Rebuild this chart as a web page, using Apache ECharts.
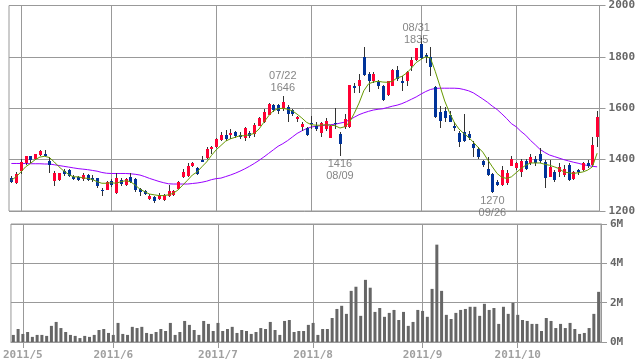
<!DOCTYPE html>
<html><head><meta charset="utf-8">
<script src="https://cdn.jsdelivr.net/npm/echarts@6/dist/echarts.min.js"></script>
<style>html,body{margin:0;padding:0;background:#fff}#c{width:638px;height:362px}</style>
</head><body><div id="c"></div>
<script>
const dates = ['2011/04/27','2011/04/28',
'2011/05/02','2011/05/06','2011/05/09','2011/05/10','2011/05/11','2011/05/12','2011/05/13','2011/05/16','2011/05/17','2011/05/18','2011/05/19','2011/05/20','2011/05/23','2011/05/24','2011/05/25','2011/05/26','2011/05/27','2011/05/30','2011/05/31',
'2011/06/01','2011/06/02','2011/06/03','2011/06/06','2011/06/07','2011/06/08','2011/06/09','2011/06/10','2011/06/13','2011/06/14','2011/06/15','2011/06/16','2011/06/17','2011/06/20','2011/06/21','2011/06/22','2011/06/23','2011/06/24','2011/06/27','2011/06/28','2011/06/29','2011/06/30',
'2011/07/01','2011/07/04','2011/07/05','2011/07/06','2011/07/07','2011/07/08','2011/07/11','2011/07/12','2011/07/13','2011/07/14','2011/07/15','2011/07/19','2011/07/20','2011/07/21','2011/07/22','2011/07/25','2011/07/26','2011/07/27','2011/07/28','2011/07/29',
'2011/08/01','2011/08/02','2011/08/03','2011/08/04','2011/08/05','2011/08/08','2011/08/09','2011/08/10','2011/08/11','2011/08/12','2011/08/15','2011/08/16','2011/08/17','2011/08/18','2011/08/19','2011/08/22','2011/08/23','2011/08/24','2011/08/25','2011/08/26','2011/08/29','2011/08/30','2011/08/31',
'2011/09/01','2011/09/02','2011/09/05','2011/09/06','2011/09/07','2011/09/08','2011/09/09','2011/09/12','2011/09/13','2011/09/14','2011/09/15','2011/09/16','2011/09/20','2011/09/21','2011/09/22','2011/09/26','2011/09/27','2011/09/28','2011/09/29','2011/09/30',
'2011/10/03','2011/10/04','2011/10/05','2011/10/06','2011/10/07','2011/10/11','2011/10/12','2011/10/13','2011/10/14','2011/10/17','2011/10/18','2011/10/19','2011/10/20','2011/10/21','2011/10/24','2011/10/25','2011/10/26','2011/10/27'];

const openP = [1328,1308,1356,1387,1413,1400,1416,1420,1393,1316,1320,1356,1359,1333,1333,1324,1340,1327,1327,1283,1282,
1316,1269,1320,1301,1333,1323,1285,1278,1247,1254,1247,1243,1259,1263,1286,1333,1337,1375,1369,1400,1408,1440,
1449,1477,1497,1493,1506,1497,1487,1502,1502,1532,1549,1577,1611,1611,1598,1605,1592,1555,1528,1523,
1541,1532,1502,1519,1487,1541,1500,1525,1525,1686,1686,1798,1733,1705,1701,1686,1650,1688,1750,1705,1705,1763,1788,
1850,1808,1801,1682,1586,1590,1574,1532,1502,1509,1500,1462,1442,1395,1362,1343,1314,1301,1308,1378,
1365,1352,1395,1385,1404,1420,1391,1333,1352,1352,1340,1378,1323,1359,1359,1387,1378,1490];
const closeP = [1311,1343,1391,1413,1397,1420,1432,1413,1378,1348,1346,1343,1337,1327,1320,1340,1320,1320,1297,1280,1312,
1300,1327,1305,1324,1314,1282,1275,1267,1260,1240,1263,1263,1278,1278,1314,1352,1375,1385,1346,1393,1442,1448,
1481,1497,1481,1502,1490,1491,1525,1490,1536,1562,1586,1618,1592,1586,1624,1577,1577,1564,1538,1497,
1536,1519,1541,1551,1532,1536,1462,1558,1690,1677,1711,1728,1705,1733,1686,1631,1705,1750,1715,1698,1741,1788,1833,
1795,1801,1763,1564,1551,1561,1548,1525,1468,1474,1483,1448,1410,1378,1340,1272,1301,1359,1348,1404,
1385,1395,1365,1410,1387,1391,1327,1372,1320,1372,1362,1320,1352,1352,1385,1374,1455,1566];
const lowP = [1308,1305,1343,1378,1386,1397,1413,1409,1347,1299,1318,1337,1333,1320,1318,1318,1318,1314,1290,1259,1281,
1295,1265,1297,1297,1308,1275,1259,1262,1243,1233,1243,1240,1256,1259,1282,1330,1333,1372,1340,1391,1404,1423,
1445,1474,1474,1481,1484,1481,1474,1484,1487,1530,1541,1574,1585,1579,1589,1548,1570,1548,1510,1493,
1519,1510,1487,1510,1485,1519,1416,1519,1523,1660,1660,1724,1664,1698,1673,1628,1647,1686,1705,1667,1686,1744,1785,
1792,1775,1725,1561,1525,1545,1545,1510,1451,1468,1477,1410,1404,1372,1336,1270,1297,1297,1301,1374,
1359,1333,1359,1378,1374,1387,1288,1331,1314,1333,1333,1318,1320,1340,1356,1369,1372,1451];
const highP = [1336,1352,1404,1416,1416,1422,1436,1436,1409,1356,1348,1365,1365,1340,1336,1347,1345,1340,1330,1288,1318,
1323,1346,1327,1327,1346,1327,1288,1282,1265,1259,1272,1266,1301,1282,1318,1363,1387,1391,1371,1413,1451,1452,
1484,1506,1515,1519,1513,1506,1528,1513,1541,1566,1596,1622,1617,1615,1646,1613,1596,1570,1545,1528,
1570,1545,1545,1562,1536,1600,1506,1577,1692,1698,1733,1840,1741,1743,1711,1690,1708,1752,1763,1724,1746,1801,1835,
1874,1814,1840,1686,1609,1605,1590,1545,1513,1577,1513,1474,1448,1400,1410,1346,1320,1374,1361,1416,
1391,1404,1404,1420,1413,1446,1397,1400,1359,1385,1378,1385,1356,1365,1391,1400,1487,1590];
const ma5 = [1320,1333,1352,1372,1385,1400,1410,1413,1408,1391,1372,1356,1343,1333,1333,1329,1327,1323,1314,1308,1308,
1310,1308,1314,1318,1314,1301,1285,1275,1266,1263,1260,1260,1263,1269,1282,1301,1320,1340,1352,1372,1391,1416,
1438,1455,1472,1481,1487,1493,1493,1497,1502,1519,1545,1570,1590,1598,1600,1596,1590,1577,1562,1545,
1536,1534,1534,1536,1534,1532,1523,1528,1545,1580,1620,1668,1695,1702,1705,1702,1701,1705,1718,1724,1737,1756,1778,
1790,1801,1795,1744,1686,1628,1583,1545,1519,1502,1487,1468,1448,1429,1400,1372,1346,1331,1327,1333,
1349,1365,1378,1387,1387,1387,1382,1378,1372,1365,1352,1349,1346,1349,1352,1359,1372,1425];
const ma25 = [1385,1385,1385,1385,1384,1384,1384,1383,1383,1380,1377,1374,1371,1368,1365,1363,1361,1358,1355,1350,1347,
1346,1346,1346,1346,1345,1343,1340,1334,1327,1321,1315,1310,1306,1305,1305,1305,1305,1307,1309,1312,1316,1322,
1326,1328,1334,1340,1347,1355,1364,1374,1385,1397,1410,1424,1438,1452,1462,1474,1488,1502,1512,1521,
1527,1530,1532,1534,1536,1538,1542,1546,1555,1565,1575,1582,1588,1593,1596,1598,1603,1608,1612,1618,1626,1635,1644,
1655,1665,1673,1677,1678,1678,1678,1678,1677,1673,1668,1660,1648,1636,1623,1608,1595,1578,1560,1540,
1528,1510,1495,1475,1458,1440,1428,1418,1412,1406,1400,1395,1390,1386,1381,1377,1374,1372];
const volume = [0.36,0.66,0.41,0.51,0.26,0.36,0.36,0.31,0.82,1.02,0.71,0.51,0.36,0.31,0.20,0.31,0.26,0.36,0.61,0.66,0.46,
0.36,0.97,0.41,0.36,0.77,0.71,0.77,0.46,0.41,0.51,0.66,0.56,0.97,0.36,0.51,1.07,0.87,0.61,0.36,1.07,0.92,0.56,
0.97,0.56,0.66,0.77,0.46,0.61,0.56,0.41,0.51,0.71,0.66,1.02,0.61,0.36,1.07,1.12,0.51,0.56,0.56,0.87,
0.97,0.36,0.66,0.66,1.22,1.68,1.84,1.43,2.60,2.81,1.33,3.16,2.76,1.53,1.73,1.28,1.48,1.63,1.12,1.53,0.82,1.02,1.63,
1.58,1.28,2.70,4.95,2.60,1.38,1.17,1.48,1.63,1.68,1.79,1.79,1.33,1.94,1.63,1.73,0.92,1.79,1.43,1.99,
1.38,1.12,1.07,0.92,0.92,0.56,1.22,1.07,0.71,0.92,0.71,0.97,0.66,0.41,0.46,0.71,1.43,2.55];
const priceTicks = [1200, 2000, 200];
const volTicks = [0, 6, 2];
const annDates = ['2011/07/22','2011/08/09','2011/08/31','2011/09/26'];
const annValues = [1646, 1416, 1835, 1270];
const annKinds = ['high','low','high','low'];

const UP = '#ff0033', DOWN = '#003399';
const GRID = '#999999';
const monthOf = d => +d.split('/')[1];
const isMonthStart = i => i > 0 && monthOf(dates[i]) !== monthOf(dates[i - 1]);
const catInterval = (i) => isMonthStart(i);

const candleData = dates.map((d, i) => [i, openP[i], closeP[i], lowP[i], highP[i]]);
const annData = annDates.map((d, k) => ({
  value: [dates.indexOf(d), annValues[k]],
  label: {
    position: annKinds[k] === 'high' ? 'top' : 'bottom',
    formatter: annKinds[k] === 'high' ? (d.slice(5) + '\n' + annValues[k]) : (annValues[k] + '\n' + d.slice(5))
  }
}));

function renderCandle(params, api) {
  const i = api.value(0);
  const o = api.value(1), c = api.value(2), lo = api.value(3), hi = api.value(4);
  const pO = api.coord([i, o]), pC = api.coord([i, c]);
  const pL = api.coord([i, lo]), pH = api.coord([i, hi]);
  const x = Math.round(pO[0]);
  const top = Math.round(Math.min(pO[1], pC[1]));
  const h = Math.max(Math.round(Math.abs(pO[1] - pC[1])), 1);
  return {
    type: 'group',
    children: [
      { type: 'line', shape: { x1: x + 0.5, y1: Math.round(pH[1]), x2: x + 0.5, y2: Math.round(pL[1]) },
        style: { stroke: '#333333', lineWidth: 1 } },
      { type: 'rect', shape: { x: x - 1, y: top, width: 3, height: h },
        style: { fill: c >= o ? UP : DOWN } }
    ]
  };
}

const axisFont = { fontFamily: 'DejaVu Sans Mono', fontWeight: 'bold', fontSize: 11 };

const chart = echarts.init(document.getElementById('c'), null, { renderer: 'canvas' });
chart.setOption({
  animation: false,
  backgroundColor: '#ffffff',
  grid: [
    { left: 9, right: 37, top: 5, height: 206, show: true, borderColor: GRID, borderWidth: 1 },
    { left: 9, right: 37, top: 224, height: 118, show: true, borderColor: GRID, borderWidth: 1 }
  ],
  xAxis: [
    { type: 'category', gridIndex: 0, data: dates, boundaryGap: true,
      axisLine: { show: false }, axisTick: { show: false }, axisLabel: { show: false },
      splitLine: { show: true, interval: catInterval, alignWithLabel: true, lineStyle: { color: GRID, width: 1 } } },
    { type: 'category', gridIndex: 1, data: dates, boundaryGap: true,
      axisLine: { show: true, lineStyle: { color: GRID } },
      axisTick: { show: true, interval: catInterval, alignWithLabel: true, length: 6, lineStyle: { color: GRID } },
      axisLabel: Object.assign({ show: true, interval: catInterval, color: '#a0a0a0', margin: 8,
        formatter: v => v.slice(0, 4) + '/' + monthOf(v) }, axisFont),
      splitLine: { show: true, interval: catInterval, alignWithLabel: true, lineStyle: { color: GRID, width: 1 } } }
  ],
  yAxis: [
    { type: 'value', gridIndex: 0, position: 'right', min: priceTicks[0], max: priceTicks[1], interval: priceTicks[2],
      axisLine: { show: true, lineStyle: { color: GRID } },
      axisTick: { show: true, length: 6, lineStyle: { color: GRID } },
      axisLabel: Object.assign({ color: '#666666', margin: 9, formatter: v => String(v) }, axisFont),
      splitLine: { show: true, lineStyle: { color: GRID } } },
    { type: 'value', gridIndex: 1, position: 'right', min: volTicks[0], max: volTicks[1], interval: volTicks[2],
      axisLine: { show: true, lineStyle: { color: GRID } },
      axisTick: { show: true, length: 6, lineStyle: { color: GRID } },
      axisLabel: Object.assign({ color: '#666666', margin: 9, formatter: v => v + 'M' }, axisFont),
      splitLine: { show: true, lineStyle: { color: GRID } } }
  ],
  series: [
    { type: 'bar', xAxisIndex: 1, yAxisIndex: 1, data: volume, barWidth: 3, itemStyle: { color: '#666666' } },
    { type: 'line', xAxisIndex: 0, yAxisIndex: 0, data: ma25, symbol: 'none',
      lineStyle: { color: '#9900ff', width: 1 }, z: 3 },
    { type: 'custom', xAxisIndex: 0, yAxisIndex: 0, data: candleData, renderItem: renderCandle,
      encode: { x: 0, y: [1, 2, 3, 4] }, z: 4 },
    { type: 'line', xAxisIndex: 0, yAxisIndex: 0, data: ma5, symbol: 'none',
      lineStyle: { color: '#669900', width: 1 }, z: 5 },
    { type: 'scatter', xAxisIndex: 0, yAxisIndex: 0, data: annData, symbolSize: 0, z: 6,
      label: { show: true, color: '#666666', fontFamily: 'Liberation Sans', fontSize: 11, lineHeight: 12, distance: 2 } }
  ]
});
</script></body></html>
